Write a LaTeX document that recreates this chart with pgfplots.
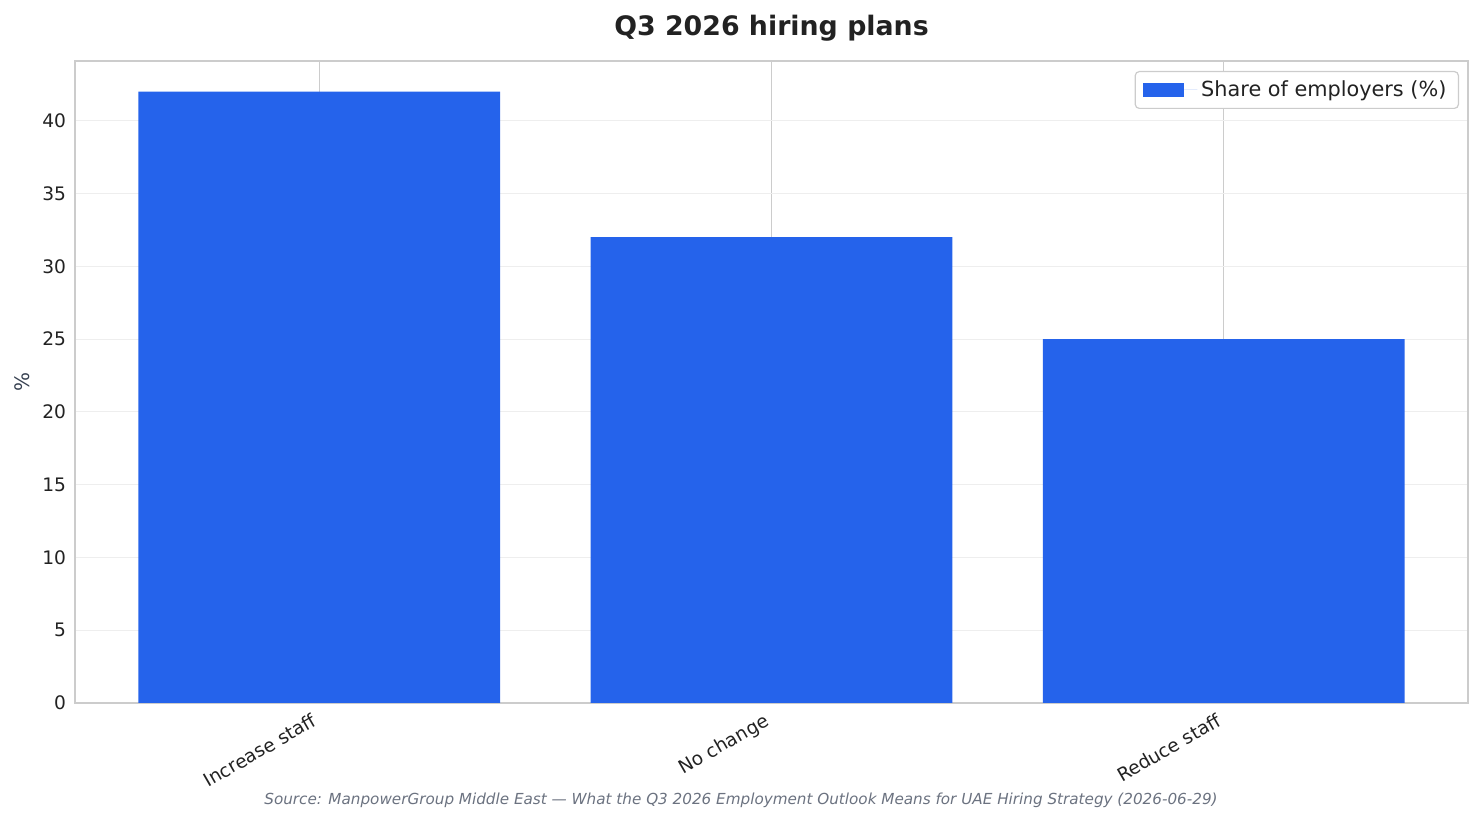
\documentclass[border=0pt]{standalone}
\usepackage{fontspec}
\setmainfont{DejaVu Sans}
\usepackage{pgfplots}
\pgfplotsset{compat=1.18}

\definecolor{barblue}{HTML}{2563EB}
\definecolor{frame}{HTML}{CCCCCC}
\definecolor{gridc}{HTML}{EEEEEE}
\definecolor{txt}{HTML}{222222}
\definecolor{srcgray}{HTML}{6B7280}
\definecolor{lblgray}{HTML}{374151}

\begin{document}
\begin{tikzpicture}
\path[use as bounding box] (-37.5pt,-60.5pt) rectangle (704.5pt,351.5pt);
\begin{axis}[
  at={(0,0)}, anchor=south west,
  scale only axis,
  width=696.5pt, height=321pt,
  xmin=-0.54, xmax=2.54,
  ymin=0, ymax=44.1,
  ybar, bar width=0.8,
  xtick={0,1,2},
  xticklabels={Increase staff,No change,Reduce staff},
  ytick={0,5,...,40},
  major tick length=0pt,
  axis line style={draw=frame, line width=0.75pt},
  xmajorgrids, ymajorgrids,
  x grid style={draw=frame, line width=0.65pt},
  y grid style={draw=gridc, line width=0.5pt},
  /pgf/number format/assume math mode=true,
  yticklabel style={font=\fontsize{9.3}{10}\selectfont, text=txt, xshift=-1pt},
  xticklabel style={font=\fontsize{9.3}{10}\selectfont, text=txt, rotate=30, anchor=north east, xshift=-2.5pt, yshift=1.5pt},
  ylabel={\textcolor{lblgray}{\%}},
  ylabel style={font=\fontsize{8}{9}\selectfont},
  every axis y label/.style={at={(axis description cs:0,0.5)}, rotate=90, anchor=center, yshift=26.5pt},
  title={Q3 2026 hiring plans},
  title style={font=\bfseries\fontsize{13.4}{15}\selectfont, text=txt, at={(axis description cs:0.5,1)}, anchor=center, yshift=10.5pt},
  legend style={at={(1,1)}, anchor=north east, xshift=-4.5pt, yshift=-5pt,
    draw=frame, rounded corners=2pt, line width=0.6pt,
    font=\fontsize{10.4}{11}\selectfont, text=txt,
    inner xsep=4pt, inner ysep=2.5pt},
  legend image code/.code={\fill[barblue, sharp corners] (0pt,-3.5pt) rectangle (20.5pt,3.5pt);
    \path (0pt,0pt) -- (27pt,0pt);},
]
\addplot[fill=barblue, draw=none] coordinates {(0,42) (1,32) (2,25)};
\addlegendentry{Share of employers (\%)}
\end{axis}
\node[font=\itshape\fontsize{7.6}{8}\selectfont, text=srcgray] at (333pt,-48.5pt)
  {Source: ManpowerGroup Middle East — What the Q3 2026 Employment Outlook Means for UAE Hiring Strategy (2026-06-29)};
\end{tikzpicture}
\end{document}
